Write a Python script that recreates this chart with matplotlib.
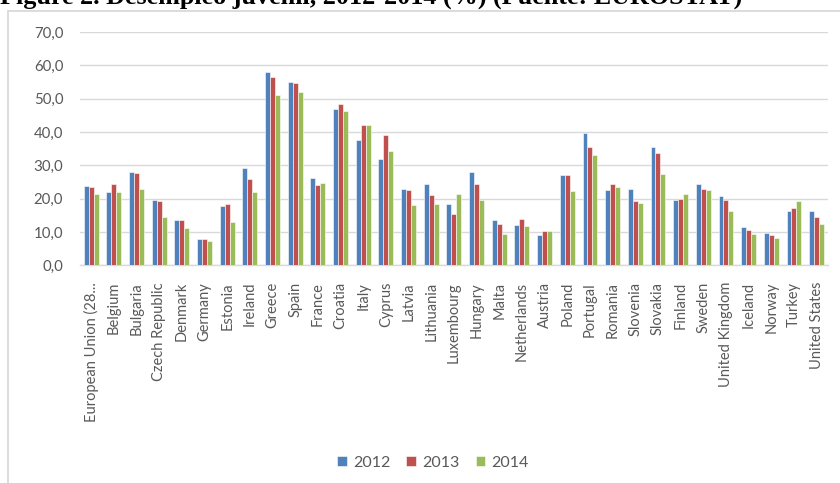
"""Youth unemployment 2012-2014 grouped bar chart (EUROSTAT)."""

import numpy as np
import matplotlib.pyplot as plt
from matplotlib.patches import Rectangle
from matplotlib.ticker import FuncFormatter

countries = [
    "European Union (28...", "Belgium", "Bulgaria", "Czech Republic", "Denmark",
    "Germany", "Estonia", "Ireland", "Greece", "Spain", "France", "Croatia",
    "Italy", "Cyprus", "Latvia", "Lithuania", "Luxembourg", "Hungary", "Malta",
    "Netherlands", "Austria", "Poland", "Portugal", "Romania", "Slovenia",
    "Slovakia", "Finland", "Sweden", "United Kingdom", "Iceland", "Norway",
    "Turkey", "United States",
]
years = ["2012", "2013", "2014"]
values_2012 = [
    23.9, 21.9, 28.1, 19.7, 13.5, 7.9, 17.7, 29.2, 58.1, 55.0, 26.1, 46.9,
    37.6, 31.8, 22.8, 24.5, 18.3, 28.1, 13.5, 12.1, 9.0, 27.0, 39.6, 22.5,
    23.0, 35.4, 19.5, 24.3, 20.8, 11.6, 9.6, 16.3, 16.3,
]
values_2013 = [
    23.6, 24.3, 27.6, 19.2, 13.5, 7.9, 18.4, 25.8, 56.4, 54.7, 24.0, 48.3,
    42.1, 39.1, 22.5, 21.1, 15.5, 24.3, 12.4, 13.8, 10.2, 27.0, 35.4, 24.3,
    19.2, 33.7, 20.0, 22.8, 19.7, 10.5, 9.0, 17.2, 14.4,
]
values_2014 = [
    21.4, 22.0, 22.8, 14.4, 11.3, 7.4, 13.0, 22.0, 51.0, 52.0, 24.7, 46.3,
    42.1, 34.3, 18.0, 18.3, 21.4, 19.5, 9.3, 11.8, 10.2, 22.2, 33.2, 23.6,
    18.6, 27.3, 21.4, 22.5, 16.3, 9.3, 8.2, 19.2, 12.4,
]
series = [values_2012, values_2013, values_2014]
colors = ["#4F81BD", "#C0504D", "#9BBB59"]

text_gray = "#595959"
grid_gray = "#D9D9D9"
label_font = "Lato"

fig = plt.figure(figsize=(8.4, 4.83), dpi=100)
axis = fig.add_axes([0.0952, 0.4507, 0.8905, 0.4830])

x_positions = np.arange(len(countries))
bar_width = 0.22
for index, (year, values) in enumerate(zip(years, series)):
    axis.bar(
        x_positions + (index - 1) * bar_width,
        values,
        width=bar_width,
        color=colors[index],
        edgecolor="white",
        linewidth=0.4,
        label=year,
        zorder=3,
    )

axis.set_xlim(-0.5, len(countries) - 0.5)
axis.set_ylim(0, 70)
axis.set_yticks(np.arange(0, 71, 10))
axis.yaxis.set_major_formatter(FuncFormatter(lambda v, _: f"{v:.1f}".replace(".", ",")))
axis.set_xticks(x_positions)
axis.set_xticklabels(countries, rotation=90, fontsize=10.5, color=text_gray, family=label_font)
for tick in axis.get_yticklabels():
    tick.set_family(label_font)
    tick.set_fontsize(10.8)
    tick.set_color(text_gray)
axis.tick_params(axis="both", length=0)
axis.tick_params(axis="y", pad=12)
axis.tick_params(axis="x", pad=12)

axis.grid(axis="y", color=grid_gray, linewidth=1.0, zorder=0)
for side in ("top", "right", "left"):
    axis.spines[side].set_visible(False)
axis.spines["bottom"].set_color(grid_gray)
axis.spines["bottom"].set_linewidth(1.0)

fig.legend(
    loc="center",
    bbox_to_anchor=(433 / 840, 1 - 463 / 483),
    ncol=3,
    frameon=False,
    handlelength=0.6,
    handleheight=0.6,
    handletextpad=0.4,
    columnspacing=1.0,
    prop={"family": label_font, "size": 11.5},
    labelcolor=text_gray,
)

# chart frame, cut off on the right and bottom in the original
fig.patches.append(
    Rectangle(
        (8 / 840, -0.05), 1.1, 0.05 + (1 - 11 / 483),
        transform=fig.transFigure, fill=False, edgecolor=grid_gray, linewidth=1.3,
    )
)

fig.text(
    0.0, 1 - 4 / 483,
    "Figure 2. Desempleo juvenil, 2012-2014 (%) (Fuente: EUROSTAT)",
    family="Liberation Serif", weight="bold", fontsize=18.8,
    ha="left", va="baseline", color="black",
)

fig.savefig("out.png", dpi=100)
